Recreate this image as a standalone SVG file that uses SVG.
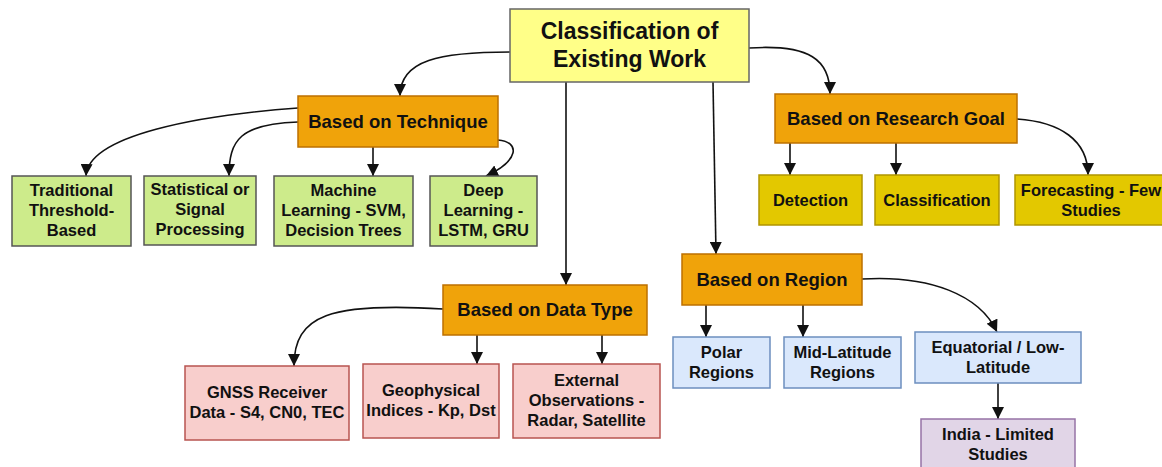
<svg xmlns="http://www.w3.org/2000/svg" width="1162" height="467" viewBox="0 0 1162 467">
<style>
text{font-family:"Liberation Sans",Arial,sans-serif;font-weight:bold;fill:#111;text-anchor:middle}
.t0{font-size:23px}.t1{font-size:18.5px}.t2{font-size:16.5px}
.root{fill:#ffff88;stroke:#666;stroke-width:1.5}
.org{fill:#f0a30a;stroke:#bd7000;stroke-width:1.5}
.grn{fill:#cdeb8b;stroke:#555;stroke-width:1.5}
.ylw{fill:#e3c800;stroke:#b09500;stroke-width:1.5}
.pnk{fill:#f8cecc;stroke:#b85450;stroke-width:1.5}
.blu{fill:#dae8fc;stroke:#6c8ebf;stroke-width:1.5}
.pur{fill:#e1d5e7;stroke:#9673a6;stroke-width:1.5}
.e{fill:none;stroke:#111;stroke-width:1.6;marker-end:url(#ah)}
</style>
<defs>
<marker id="ah" markerUnits="userSpaceOnUse" markerWidth="12" markerHeight="12" viewBox="0 0 12 12" refX="12" refY="6" orient="auto">
<path d="M0,0 L12,6 L0,12 z" fill="#111"/>
</marker>
</defs>
<rect width="1162" height="467" fill="#fff"/>
<g id="connectors">
<path class="e" d="M510,52 C440,52 400,60 400,96"/>
<path class="e" d="M566,82 L566,285"/>
<path class="e" d="M713,82 L716,254"/>
<path class="e" d="M749,48 C810,44 830,60 830,94"/>
<path class="e" d="M298,108 C200,115 88,135 86,176"/>
<path class="e" d="M298,122 C240,124 229,140 229,176"/>
<path class="e" d="M373,147 L373,176"/>
<path class="e" d="M498,140 C520,142 520,160 486,176"/>
<path class="e" d="M790,143 L790,175"/>
<path class="e" d="M896,143 L896,175"/>
<path class="e" d="M1017,119 C1060,122 1088,140 1088,175"/>
<path class="e" d="M443,309 C330,302 294,315 294,366"/>
<path class="e" d="M477,335 L477,364"/>
<path class="e" d="M602,335 L602,364"/>
<path class="e" d="M706,305 L706,337"/>
<path class="e" d="M803,305 L803,337"/>
<path class="e" d="M862,279 C930,275 980,295 997,332"/>
<path class="e" d="M998,382 L998,419"/>
</g>
<g id="root"><rect class="root" x="510" y="9" width="239" height="73"/>
<text class="t0" x="629.5" y="39">Classification of</text><text class="t0" x="629.5" y="67">Existing Work</text></g>
<g id="technique"><rect class="org" x="298" y="96" width="200" height="51"/>
<text class="t1" x="398" y="128">Based on Technique</text></g>
<g id="traditional"><rect class="grn" x="12" y="176" width="119" height="70"/>
<text class="t2" x="71.5" y="196">Traditional</text><text class="t2" x="71.5" y="216">Threshold-</text><text class="t2" x="71.5" y="236">Based</text></g>
<g id="statistical"><rect class="grn" x="144" y="176" width="112" height="69"/>
<text class="t2" x="200" y="195">Statistical or</text><text class="t2" x="200" y="215">Signal</text><text class="t2" x="200" y="235">Processing</text></g>
<g id="ml"><rect class="grn" x="274" y="176" width="139" height="70"/>
<text class="t2" x="343.5" y="196">Machine</text><text class="t2" x="343.5" y="216">Learning - SVM,</text><text class="t2" x="343.5" y="236">Decision Trees</text></g>
<g id="deep"><rect class="grn" x="430" y="176" width="107" height="70"/>
<text class="t2" x="483.5" y="196">Deep</text><text class="t2" x="483.5" y="216">Learning -</text><text class="t2" x="483.5" y="236">LSTM, GRU</text></g>
<g id="goal"><rect class="org" x="775" y="94" width="242" height="49"/>
<text class="t1" x="896" y="125">Based on Research Goal</text></g>
<g id="detection"><rect class="ylw" x="759" y="175" width="103" height="50"/>
<text class="t2" x="810.5" y="205.5">Detection</text></g>
<g id="classification"><rect class="ylw" x="875" y="175" width="124" height="50"/>
<text class="t2" x="937" y="205.5">Classification</text></g>
<g id="forecasting"><rect class="ylw" x="1015" y="175" width="160" height="50"/>
<text class="t2" x="1091" y="195.5">Forecasting - Few</text><text class="t2" x="1091" y="215.5">Studies</text></g>
<g id="datatype"><rect class="org" x="443" y="285" width="204" height="50"/>
<text class="t1" x="545" y="316">Based on Data Type</text></g>
<g id="gnss"><rect class="pnk" x="185" y="366" width="164" height="74"/>
<text class="t2" x="267" y="398">GNSS Receiver</text><text class="t2" x="267" y="418">Data - S4, CN0, TEC</text></g>
<g id="geophysical"><rect class="pnk" x="363" y="364" width="136" height="74"/>
<text class="t2" x="431" y="396">Geophysical</text><text class="t2" x="431" y="416">Indices - Kp, Dst</text></g>
<g id="external"><rect class="pnk" x="513" y="364" width="147" height="74"/>
<text class="t2" x="586.5" y="386">External</text><text class="t2" x="586.5" y="406">Observations -</text><text class="t2" x="586.5" y="426">Radar, Satellite</text></g>
<g id="region"><rect class="org" x="682" y="254" width="180" height="51"/>
<text class="t1" x="772" y="286">Based on Region</text></g>
<g id="polar"><rect class="blu" x="673" y="337" width="97" height="51"/>
<text class="t2" x="721.5" y="358">Polar</text><text class="t2" x="721.5" y="378">Regions</text></g>
<g id="mid"><rect class="blu" x="784" y="337" width="117" height="51"/>
<text class="t2" x="842.5" y="358">Mid-Latitude</text><text class="t2" x="842.5" y="378">Regions</text></g>
<g id="equatorial"><rect class="blu" x="915" y="332" width="166" height="51"/>
<text class="t2" x="998" y="353">Equatorial / Low-</text><text class="t2" x="998" y="373">Latitude</text></g>
<g id="india"><rect class="pur" x="921" y="419" width="154" height="60"/>
<text class="t2" x="998" y="440">India - Limited</text><text class="t2" x="998" y="460">Studies</text></g>
</svg>
